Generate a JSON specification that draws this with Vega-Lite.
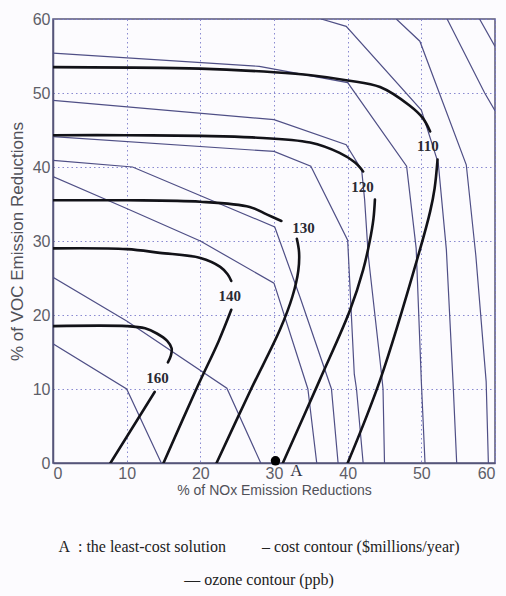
{
  "$schema": "https://vega.github.io/schema/vega-lite/v6.json",
  "width": 442,
  "height": 444,
  "autosize": {"type": "none"},
  "padding": {"left": 53, "top": 19, "right": 11, "bottom": 133},
  "background": "#fcfbfe",
  "title": {
    "text": "A\u00a0 : the least-cost solution\u00a0\u00a0\u00a0\u00a0\u00a0\u00a0\u00a0\u00a0\u00a0– cost contour ($millions/year)",
    "subtitle": "— ozone contour (ppb)",
    "orient": "bottom",
    "anchor": "middle",
    "dx": -15,
    "offset": 42,
    "font": "Liberation Serif",
    "fontSize": 16,
    "fontWeight": "normal",
    "color": "#222222",
    "subtitleFont": "Liberation Serif",
    "subtitleFontSize": 16,
    "subtitleColor": "#222222",
    "subtitlePadding": 17
  },
  "datasets": {
    "contours": [
      {"k": "c", "s": "c1", "i": 1, "x": 0, "y": 16.1},
      {"k": "c", "s": "c1", "i": 2, "x": 10, "y": 10},
      {"k": "c", "s": "c1", "i": 3, "x": 14.7, "y": 0},
      {"k": "c", "s": "c2", "i": 1, "x": 0, "y": 25.1},
      {"k": "c", "s": "c2", "i": 2, "x": 10, "y": 19.2},
      {"k": "c", "s": "c2", "i": 3, "x": 23.6, "y": 10.1},
      {"k": "c", "s": "c2", "i": 4, "x": 28.2, "y": 0},
      {"k": "c", "s": "c3", "i": 1, "x": 0, "y": 38.7},
      {"k": "c", "s": "c3", "i": 2, "x": 10, "y": 34.4},
      {"k": "c", "s": "c3", "i": 3, "x": 20, "y": 30},
      {"k": "c", "s": "c3", "i": 4, "x": 30, "y": 24.3},
      {"k": "c", "s": "c3", "i": 5, "x": 34.6, "y": 10},
      {"k": "c", "s": "c3", "i": 6, "x": 35.8, "y": 0},
      {"k": "c", "s": "c4", "i": 1, "x": 0, "y": 40.9},
      {"k": "c", "s": "c4", "i": 2, "x": 10.8, "y": 40},
      {"k": "c", "s": "c4", "i": 3, "x": 30.1, "y": 31.9},
      {"k": "c", "s": "c4", "i": 4, "x": 33.5, "y": 22.5},
      {"k": "c", "s": "c4", "i": 5, "x": 37.8, "y": 10},
      {"k": "c", "s": "c4", "i": 6, "x": 38.7, "y": 0},
      {"k": "c", "s": "c5", "i": 1, "x": 0, "y": 44.1},
      {"k": "c", "s": "c5", "i": 2, "x": 30, "y": 42.1},
      {"k": "c", "s": "c5", "i": 3, "x": 35, "y": 40.1},
      {"k": "c", "s": "c5", "i": 4, "x": 40, "y": 30.1},
      {"k": "c", "s": "c5", "i": 5, "x": 40.9, "y": 12},
      {"k": "c", "s": "c5", "i": 6, "x": 41.2, "y": 10},
      {"k": "c", "s": "c5", "i": 7, "x": 42.1, "y": 0},
      {"k": "c", "s": "c6", "i": 1, "x": 0, "y": 49},
      {"k": "c", "s": "c6", "i": 2, "x": 30, "y": 46.4},
      {"k": "c", "s": "c6", "i": 3, "x": 39.8, "y": 43},
      {"k": "c", "s": "c6", "i": 4, "x": 41.9, "y": 39.6},
      {"k": "c", "s": "c6", "i": 5, "x": 42.3, "y": 35.6},
      {"k": "c", "s": "c6", "i": 6, "x": 42.8, "y": 28},
      {"k": "c", "s": "c6", "i": 7, "x": 44.6, "y": 12},
      {"k": "c", "s": "c6", "i": 8, "x": 44.8, "y": 10},
      {"k": "c", "s": "c6", "i": 9, "x": 45, "y": 0},
      {"k": "c", "s": "c7", "i": 1, "x": 0, "y": 55.4},
      {"k": "c", "s": "c7", "i": 2, "x": 28, "y": 53.6},
      {"k": "c", "s": "c7", "i": 3, "x": 40, "y": 51.4},
      {"k": "c", "s": "c7", "i": 4, "x": 48, "y": 40.1},
      {"k": "c", "s": "c7", "i": 5, "x": 49.3, "y": 29},
      {"k": "c", "s": "c7", "i": 6, "x": 50, "y": 11},
      {"k": "c", "s": "c7", "i": 7, "x": 50.5, "y": 0},
      {"k": "c", "s": "c8", "i": 1, "x": 36.4, "y": 60},
      {"k": "c", "s": "c8", "i": 2, "x": 39.8, "y": 59},
      {"k": "c", "s": "c8", "i": 3, "x": 50, "y": 47.7},
      {"k": "c", "s": "c8", "i": 4, "x": 52.3, "y": 40.5},
      {"k": "c", "s": "c8", "i": 5, "x": 53.4, "y": 28.8},
      {"k": "c", "s": "c8", "i": 6, "x": 54.3, "y": 11},
      {"k": "c", "s": "c8", "i": 7, "x": 54.8, "y": 0},
      {"k": "c", "s": "c9", "i": 1, "x": 46.6, "y": 60},
      {"k": "c", "s": "c9", "i": 2, "x": 49.8, "y": 57},
      {"k": "c", "s": "c9", "i": 3, "x": 56.1, "y": 40.3},
      {"k": "c", "s": "c9", "i": 4, "x": 57.4, "y": 28},
      {"k": "c", "s": "c9", "i": 5, "x": 58.8, "y": 11},
      {"k": "c", "s": "c9", "i": 6, "x": 59.1, "y": 0},
      {"k": "c", "s": "c10", "i": 1, "x": 53.5, "y": 60},
      {"k": "c", "s": "c10", "i": 2, "x": 58.6, "y": 50},
      {"k": "c", "s": "c10", "i": 3, "x": 60, "y": 47.6},
      {"k": "c", "s": "c11", "i": 1, "x": 57.9, "y": 60},
      {"k": "c", "s": "c11", "i": 2, "x": 60, "y": 56.3},
      {"k": "o", "s": "o160a", "i": 1, "x": 0, "y": 18.5},
      {"k": "o", "s": "o160a", "i": 2, "x": 10, "y": 18.5},
      {"k": "o", "s": "o160a", "i": 3, "x": 12.5, "y": 18.2},
      {"k": "o", "s": "o160a", "i": 4, "x": 14.1, "y": 17.5},
      {"k": "o", "s": "o160a", "i": 5, "x": 15.5, "y": 16.5},
      {"k": "o", "s": "o160a", "i": 6, "x": 16.1, "y": 15.5},
      {"k": "o", "s": "o160a", "i": 7, "x": 16.0, "y": 14.5},
      {"k": "o", "s": "o160a", "i": 8, "x": 15.6, "y": 13.6},
      {"k": "o", "s": "o160b", "i": 1, "x": 7.8, "y": 0},
      {"k": "o", "s": "o160b", "i": 2, "x": 13.8, "y": 9.6},
      {"k": "o", "s": "o140a", "i": 1, "x": 0, "y": 29},
      {"k": "o", "s": "o140a", "i": 2, "x": 10, "y": 28.9},
      {"k": "o", "s": "o140a", "i": 3, "x": 14.5, "y": 28.4},
      {"k": "o", "s": "o140a", "i": 4, "x": 20, "y": 27.7},
      {"k": "o", "s": "o140a", "i": 5, "x": 22.7, "y": 26.5},
      {"k": "o", "s": "o140a", "i": 6, "x": 23.7, "y": 25.5},
      {"k": "o", "s": "o140a", "i": 7, "x": 24.2, "y": 24.6},
      {"k": "o", "s": "o140b", "i": 1, "x": 15, "y": 0},
      {"k": "o", "s": "o140b", "i": 2, "x": 19.6, "y": 10.3},
      {"k": "o", "s": "o140b", "i": 3, "x": 22.5, "y": 16.5},
      {"k": "o", "s": "o140b", "i": 4, "x": 24.2, "y": 20.7},
      {"k": "o", "s": "o130a", "i": 1, "x": 0, "y": 35.5},
      {"k": "o", "s": "o130a", "i": 2, "x": 10, "y": 35.5},
      {"k": "o", "s": "o130a", "i": 3, "x": 20, "y": 35.3},
      {"k": "o", "s": "o130a", "i": 4, "x": 26.7, "y": 34.6},
      {"k": "o", "s": "o130a", "i": 5, "x": 29, "y": 33.6},
      {"k": "o", "s": "o130a", "i": 6, "x": 31, "y": 32.7},
      {"k": "o", "s": "o130b", "i": 1, "x": 22.2, "y": 0},
      {"k": "o", "s": "o130b", "i": 2, "x": 26.8, "y": 9.8},
      {"k": "o", "s": "o130b", "i": 3, "x": 30.8, "y": 18},
      {"k": "o", "s": "o130b", "i": 4, "x": 32.5, "y": 22.5},
      {"k": "o", "s": "o130b", "i": 5, "x": 33.3, "y": 26},
      {"k": "o", "s": "o130b", "i": 6, "x": 33.4, "y": 28.5},
      {"k": "o", "s": "o130b", "i": 7, "x": 33.1, "y": 30.3},
      {"k": "o", "s": "o120a", "i": 1, "x": 0, "y": 44.3},
      {"k": "o", "s": "o120a", "i": 2, "x": 10, "y": 44.3},
      {"k": "o", "s": "o120a", "i": 3, "x": 20, "y": 44.2},
      {"k": "o", "s": "o120a", "i": 4, "x": 27, "y": 44},
      {"k": "o", "s": "o120a", "i": 5, "x": 34.9, "y": 43.3},
      {"k": "o", "s": "o120a", "i": 6, "x": 38.9, "y": 41.9},
      {"k": "o", "s": "o120a", "i": 7, "x": 41, "y": 40.6},
      {"k": "o", "s": "o120a", "i": 8, "x": 42.1, "y": 39.4},
      {"k": "o", "s": "o120b", "i": 1, "x": 31.2, "y": 0},
      {"k": "o", "s": "o120b", "i": 2, "x": 36.2, "y": 11.2},
      {"k": "o", "s": "o120b", "i": 3, "x": 40.3, "y": 20.6},
      {"k": "o", "s": "o120b", "i": 4, "x": 42.1, "y": 26.1},
      {"k": "o", "s": "o120b", "i": 5, "x": 43, "y": 30},
      {"k": "o", "s": "o120b", "i": 6, "x": 43.5, "y": 33},
      {"k": "o", "s": "o120b", "i": 7, "x": 43.7, "y": 35.6},
      {"k": "o", "s": "o110a", "i": 1, "x": 0, "y": 53.5},
      {"k": "o", "s": "o110a", "i": 2, "x": 20, "y": 53.3},
      {"k": "o", "s": "o110a", "i": 3, "x": 30, "y": 52.8},
      {"k": "o", "s": "o110a", "i": 4, "x": 35, "y": 52.4},
      {"k": "o", "s": "o110a", "i": 5, "x": 40, "y": 51.7},
      {"k": "o", "s": "o110a", "i": 6, "x": 44.4, "y": 50.8},
      {"k": "o", "s": "o110a", "i": 7, "x": 48.4, "y": 48.3},
      {"k": "o", "s": "o110a", "i": 8, "x": 50.2, "y": 46.6},
      {"k": "o", "s": "o110a", "i": 9, "x": 51.2, "y": 44.8},
      {"k": "o", "s": "o110b", "i": 1, "x": 40, "y": 0},
      {"k": "o", "s": "o110b", "i": 2, "x": 44.4, "y": 11.2},
      {"k": "o", "s": "o110b", "i": 3, "x": 49.8, "y": 28.8},
      {"k": "o", "s": "o110b", "i": 4, "x": 51.2, "y": 34},
      {"k": "o", "s": "o110b", "i": 5, "x": 51.8, "y": 37.1},
      {"k": "o", "s": "o110b", "i": 6, "x": 52.2, "y": 41}
    ],
    "labels": [
      {"t": "160", "x": 14.2, "y": 11.5},
      {"t": "140", "x": 24.0, "y": 22.6},
      {"t": "130", "x": 34.0, "y": 31.8},
      {"t": "120", "x": 42.0, "y": 37.3},
      {"t": "110", "x": 50.9, "y": 42.8}
    ],
    "solution": [
      {"name": "A", "x": 30.2, "y": 0.3}
    ]
  },
  "layer": [
    {
      "data": {"name": "contours"},
      "transform": [{"filter": "datum.k === 'c'"}],
      "mark": {"type": "line", "stroke": "#4f4f86", "strokeWidth": 1.2, "clip": true},
      "encoding": {
        "x": {"field": "x", "type": "quantitative", "scale": {"domain": [0, 60], "nice": false},
          "axis": {"values": [0, 10, 20, 30, 40, 50, 60], "title": "% of NOx Emission Reductions"}},
        "y": {"field": "y", "type": "quantitative", "scale": {"domain": [0, 60], "nice": false},
          "axis": {"values": [0, 10, 20, 30, 40, 50, 60], "title": "% of VOC Emission Reductions"}},
        "detail": {"field": "s"},
        "order": {"field": "i", "type": "quantitative"}
      }
    },
    {
      "data": {"name": "contours"},
      "transform": [{"filter": "datum.k === 'o'"}],
      "mark": {"type": "line", "stroke": "#121218", "strokeWidth": 2.6, "strokeCap": "round", "interpolate": "catmull-rom", "clip": true},
      "encoding": {
        "x": {"field": "x", "type": "quantitative"},
        "y": {"field": "y", "type": "quantitative"},
        "detail": {"field": "s"},
        "order": {"field": "i", "type": "quantitative"}
      }
    },
    {
      "data": {"name": "labels"},
      "mark": {"type": "text", "font": "Liberation Serif", "fontSize": 15, "fontWeight": "bold", "color": "#2a2a33"},
      "encoding": {
        "x": {"field": "x", "type": "quantitative"},
        "y": {"field": "y", "type": "quantitative"},
        "text": {"field": "t"}
      }
    },
    {
      "data": {"name": "solution"},
      "mark": {"type": "point", "shape": "circle", "filled": true, "size": 90, "color": "#000000", "opacity": 1},
      "encoding": {
        "x": {"field": "x", "type": "quantitative"},
        "y": {"field": "y", "type": "quantitative"}
      }
    },
    {
      "data": {"name": "solution"},
      "mark": {"type": "text", "font": "Liberation Serif", "fontSize": 17, "color": "#333344", "dx": 21, "dy": 10},
      "encoding": {
        "x": {"field": "x", "type": "quantitative"},
        "y": {"field": "y", "type": "quantitative"},
        "text": {"field": "name"}
      }
    }
  ],
  "config": {
    "view": {"stroke": "#55557a", "strokeWidth": 1.5},
    "axis": {
      "grid": true,
      "gridColor": "#7d7dcc",
      "gridDash": [1.5, 3],
      "gridWidth": 1,
      "gridOpacity": 0.9,
      "domainColor": "#55557a",
      "domainWidth": 1.5,
      "ticks": false,
      "labelFont": "Liberation Sans",
      "labelColor": "#5e5e68",
      "titleFont": "Liberation Sans",
      "titleColor": "#505058",
      "titleFontWeight": "normal"
    },
    "axisX": {"labelFontSize": 16, "labelPadding": 2, "titleFontSize": 14, "titlePadding": 2},
    "axisY": {"labelFontSize": 16, "labelPadding": 3, "titleFontSize": 17, "titlePadding": 6}
  }
}
